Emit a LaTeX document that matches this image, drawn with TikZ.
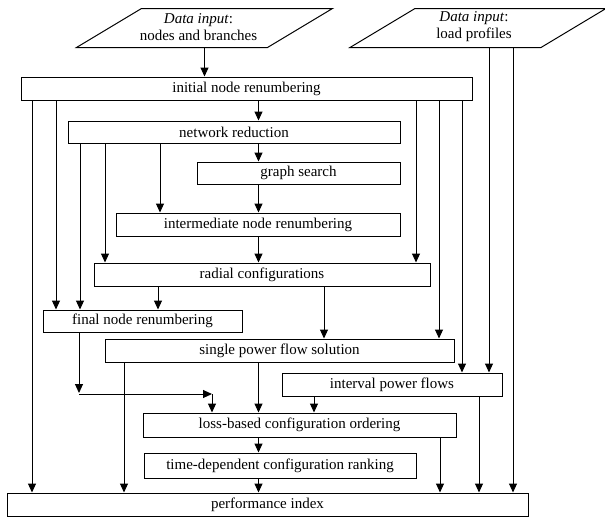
\documentclass[tikz,border=0pt]{standalone}
\usepackage{fontspec}
\setmainfont{Liberation Serif}
\usepackage{tikz}
\usetikzlibrary{arrows.meta}

\begin{document}
\begin{tikzpicture}[x=1pt, y=-1pt, ->, >={Triangle[length=9pt,width=8pt]}, line width=1pt,
    box/.style={draw, inner sep=0pt, minimum height=23pt, font=\fontsize{15}{17}\selectfont},
    datain/.style={inner sep=0pt, minimum width=190pt, minimum height=38pt},
    datatext/.style={align=center, inner sep=0pt, font=\fontsize{15}{17}\selectfont}]
    \useasboundingbox (0,0) rectangle (605,517);

    % inputs
    \node[datain]    (nodesin)   at (204.5,28) {};
    \node[datain]    (loadin)    at (478,28)   {};
    \draw[-] ([xshift=-32.5pt]nodesin.south west) -- ([xshift=-32.5pt]nodesin.south east)
        -- ([xshift=32.5pt]nodesin.north east) -- ([xshift=32.5pt]nodesin.north west) -- cycle;
    \draw[-] ([xshift=-32.5pt]loadin.south west) -- ([xshift=-32.5pt]loadin.south east)
        -- ([xshift=32.5pt]loadin.north east) -- ([xshift=32.5pt]loadin.north west) -- cycle;
    \node[datatext]  (nodestext) at (198.5,27) {\textit{Data input}:\\nodes and branches};
    \node[datatext]  (loadtext)  at (474,27)   {\textit{Data input}:\\load profiles};

    % steps
    \node[box, minimum width=451pt] (initial)  at (246.5,88.5) {initial node renumbering};
    \node[box, minimum width=332pt, minimum height=22pt] (netred) at (234,132) {network reduction};
    \node[box, minimum width=203pt, minimum height=22pt] (graph)  at (298.5,173) {graph search};
    \node[box, minimum width=284pt] (inter)    at (258,224.5) {intermediate node renumbering};
    \node[box, minimum width=336pt] (radial)   at (262,274.5) {radial configurations};
    \node[box, minimum width=199pt, minimum height=22pt] (final) at (142.5,321) {final node renumbering};
    \node[box, minimum width=349pt] (single)   at (279.5,350.5) {single power flow solution};
    \node[box, minimum width=220pt] (interval) at (392,384.5) {interval power flows};
    \node[box, minimum width=313pt, minimum height=24pt] (loss) at (299.5,425) {loss-based configuration ordering};
    \node[box, minimum width=272pt, minimum height=25pt] (time) at (280,465.5) {time-dependent configuration ranking};
    \node[box, minimum width=521pt] (perf)     at (267.5,504.5) {performance index};

    \coordinate (bend) at (79,394);
    \coordinate (turn) at (212,394);

    % connections
    \draw (nodesin.south) -- (initial.north -| nodesin.south);
    \draw (initial.south -| 32,0)    -- (perf.north -| 32,0);
    \draw (initial.south -| 56,0)    -- (final.north -| 56,0);
    \draw (initial.south -| 258.5,0) -- (netred.north -| 258.5,0);
    \draw (initial.south -| 416,0)   -- (radial.north -| 416,0);
    \draw (initial.south -| 439,0)   -- (single.north -| 439,0);
    \draw (initial.south -| 462,0)   -- (interval.north -| 462,0);
    \draw (loadin.south -| 489,0)    -- (interval.north -| 489,0);
    \draw (loadin.south -| 513,0)    -- (perf.north -| 513,0);
    \draw (netred.south -| 80,0)     -- (final.north -| 80,0);
    \draw (netred.south -| 105,0)    -- (radial.north -| 105,0);
    \draw (netred.south -| 160,0)    -- (inter.north -| 160,0);
    \draw (netred.south -| 258.5,0)  -- (graph.north -| 258.5,0);
    \draw (graph.south -| 258.5,0)   -- (inter.north -| 258.5,0);
    \draw (inter.south -| 258.5,0)   -- (radial.north -| 258.5,0);
    \draw (radial.south -| 158,0)    -- (final.north -| 158,0);
    \draw (radial.south -| 324,0)    -- (single.north -| 324,0);
    \draw (final.south -| bend)      -- ([yshift=1pt]bend);
    \draw (bend) -- (turn);
    \draw (turn) -- (loss.north -| turn);
    \draw (single.south -| 124,0)    -- (perf.north -| 124,0);
    \draw (single.south -| 258.5,0)  -- (loss.north -| 258.5,0);
    \draw (interval.south -| 314,0)  -- (loss.north -| 314,0);
    \draw (interval.south -| 479,0)  -- (perf.north -| 479,0);
    \draw (loss.south -| 258.5,0)    -- (time.north -| 258.5,0);
    \draw (loss.south -| 440,0)      -- (perf.north -| 440,0);
    \draw (time.south -| 258.5,0)    -- (perf.north -| 258.5,0);
\end{tikzpicture}
\end{document}
